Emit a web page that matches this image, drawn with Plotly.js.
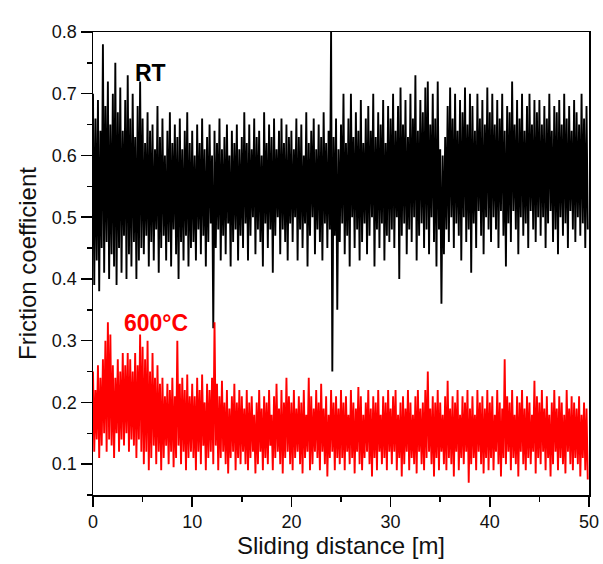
<!DOCTYPE html>
<html>
<head>
<meta charset="utf-8">
<script src="https://cdn.plot.ly/plotly-3.0.1.min.js"></script>
<style>html,body{margin:0;padding:0;background:#fff;}#chart{width:603px;height:564px;}</style>
</head>
<body>
<div id="chart"></div>
<script>
// Sliding distance sampling (m): peaks at k*STEP, troughs at k*STEP + STEP/2
const STEP = 0.25;

// RT (room temperature) friction coefficient: local peaks and troughs
const rtPeaks = [
  0.70,0.66,0.69,0.64,0.78,0.68,0.72,0.65,0.70,0.75,0.67,0.71,0.64,0.69,0.73,0.66,0.70,0.63,0.68,0.72,
  0.66,0.62,0.67,0.64,0.65,0.61,0.68,0.63,0.66,0.60,0.64,0.67,0.62,0.65,0.63,0.66,0.61,0.64,0.67,0.62,
  0.64,0.60,0.65,0.62,0.66,0.61,0.63,0.65,0.60,0.64,0.62,0.66,0.61,0.63,0.65,0.60,0.64,0.62,0.65,0.61,
  0.63,0.67,0.62,0.65,0.61,0.66,0.63,0.64,0.60,0.67,0.62,0.65,0.63,0.66,0.61,0.64,0.66,0.62,0.65,0.63,
  0.64,0.61,0.66,0.63,0.65,0.60,0.67,0.62,0.64,0.66,0.61,0.65,0.63,0.67,0.62,0.64,0.80,0.63,0.66,0.61,
  0.65,0.70,0.62,0.66,0.70,0.63,0.67,0.64,0.69,0.62,0.66,0.68,0.64,0.70,0.63,0.67,0.65,0.69,0.62,0.68,
  0.66,0.70,0.64,0.68,0.71,0.65,0.69,0.63,0.70,0.66,0.73,0.64,0.69,0.67,0.71,0.72,0.65,0.70,0.66,0.72,
  0.61,0.60,0.63,0.68,0.71,0.66,0.70,0.64,0.69,0.67,0.71,0.65,0.70,0.68,0.64,0.70,0.66,0.69,0.65,0.71,
  0.67,0.70,0.65,0.69,0.66,0.70,0.64,0.68,0.67,0.72,0.65,0.69,0.66,0.70,0.64,0.68,0.70,0.65,0.69,0.67,
  0.69,0.65,0.68,0.66,0.70,0.64,0.68,0.67,0.69,0.65,0.70,0.66,0.68,0.64,0.69,0.67,0.65,0.70,0.66,0.68
];
const rtTroughs = [
  0.39,0.43,0.38,0.45,0.41,0.46,0.40,0.44,0.42,0.39,0.45,0.41,0.47,0.40,0.44,0.42,0.46,0.40,0.43,0.45,
  0.44,0.47,0.42,0.46,0.43,0.48,0.41,0.45,0.47,0.43,0.46,0.42,0.48,0.44,0.40,0.46,0.43,0.47,0.42,0.45,
  0.46,0.43,0.48,0.44,0.47,0.42,0.46,0.49,0.32,0.45,0.48,0.43,0.47,0.44,0.49,0.42,0.46,0.48,0.43,0.47,
  0.45,0.49,0.43,0.47,0.50,0.44,0.48,0.46,0.42,0.49,0.45,0.48,0.41,0.47,0.50,0.44,0.48,0.46,0.43,0.49,
  0.46,0.50,0.43,0.48,0.45,0.49,0.42,0.47,0.50,0.44,0.48,0.46,0.43,0.49,0.45,0.48,0.25,0.47,0.35,0.46,
  0.49,0.44,0.47,0.42,0.50,0.45,0.48,0.43,0.46,0.49,0.44,0.47,0.50,0.42,0.48,0.45,0.49,0.43,0.47,0.46,
  0.48,0.45,0.50,0.40,0.47,0.49,0.44,0.48,0.46,0.50,0.43,0.47,0.49,0.45,0.48,0.44,0.50,0.46,0.42,0.48,
  0.36,0.44,0.48,0.46,0.50,0.45,0.49,0.47,0.43,0.50,0.46,0.48,0.41,0.49,0.45,0.51,0.47,0.44,0.50,0.48,
  0.46,0.50,0.48,0.45,0.51,0.47,0.42,0.49,0.46,0.51,0.48,0.44,0.50,0.47,0.49,0.45,0.51,0.48,0.46,0.50,
  0.47,0.50,0.45,0.49,0.51,0.46,0.48,0.44,0.50,0.47,0.49,0.45,0.51,0.48,0.46,0.50,0.47,0.49,0.45,0.48
];

// 600 °C friction coefficient: local peaks and troughs
const hotPeaks = [
  0.25,0.22,0.26,0.24,0.27,0.30,0.33,0.31,0.26,0.24,0.27,0.25,0.28,0.26,0.28,0.27,0.25,0.28,0.26,0.31,
  0.29,0.27,0.30,0.25,0.28,0.24,0.26,0.23,0.24,0.21,0.23,0.22,0.24,0.21,0.30,0.23,0.24,0.22,0.245,0.21,
  0.23,0.21,0.24,0.22,0.245,0.20,0.23,0.22,0.24,0.33,0.23,0.21,0.235,0.20,0.22,0.19,0.21,0.23,0.20,0.22,
  0.21,0.19,0.22,0.20,0.21,0.18,0.20,0.22,0.19,0.21,0.20,0.22,0.18,0.21,0.23,0.19,0.22,0.20,0.24,0.21,
  0.20,0.22,0.19,0.21,0.20,0.22,0.18,0.24,0.21,0.19,0.22,0.20,0.23,0.19,0.21,0.18,0.22,0.20,0.21,0.19,
  0.22,0.20,0.21,0.18,0.22,0.20,0.19,0.225,0.21,0.18,0.20,0.22,0.19,0.21,0.20,0.22,0.18,0.21,0.20,0.22,
  0.19,0.21,0.22,0.18,0.20,0.21,0.19,0.22,0.20,0.18,0.21,0.22,0.19,0.20,0.22,0.25,0.19,0.21,0.20,0.22,
  0.20,0.18,0.21,0.235,0.19,0.21,0.20,0.22,0.18,0.21,0.20,0.22,0.19,0.21,0.18,0.22,0.20,0.21,0.19,0.22,
  0.20,0.21,0.18,0.22,0.20,0.19,0.27,0.21,0.20,0.22,0.18,0.21,0.20,0.22,0.19,0.21,0.20,0.18,0.235,0.21,
  0.20,0.22,0.19,0.21,0.18,0.20,0.22,0.19,0.21,0.20,0.18,0.22,0.19,0.21,0.20,0.19,0.21,0.18,0.20,0.19
];
const hotTroughs = [
  0.12,0.14,0.11,0.13,0.15,0.12,0.14,0.13,0.11,0.15,0.12,0.14,0.13,0.15,0.12,0.14,0.13,0.11,0.14,0.12,
  0.10,0.12,0.09,0.11,0.13,0.10,0.12,0.09,0.11,0.13,0.10,0.12,0.095,0.11,0.13,0.10,0.12,0.09,0.11,0.12,
  0.11,0.09,0.12,0.10,0.13,0.09,0.11,0.12,0.10,0.13,0.09,0.11,0.12,0.10,0.085,0.11,0.12,0.09,0.11,0.10,
  0.12,0.10,0.09,0.11,0.12,0.085,0.10,0.12,0.09,0.11,0.10,0.13,0.09,0.11,0.12,0.10,0.085,0.11,0.12,0.10,
  0.09,0.11,0.12,0.10,0.085,0.11,0.12,0.09,0.10,0.12,0.11,0.09,0.12,0.10,0.08,0.11,0.12,0.09,0.11,0.10,
  0.11,0.09,0.12,0.10,0.11,0.085,0.12,0.10,0.09,0.11,0.12,0.10,0.08,0.11,0.09,0.12,0.10,0.11,0.09,0.12,
  0.10,0.12,0.09,0.11,0.08,0.10,0.12,0.09,0.11,0.10,0.085,0.12,0.10,0.09,0.11,0.12,0.10,0.08,0.11,0.09,
  0.12,0.10,0.09,0.11,0.10,0.08,0.12,0.09,0.11,0.10,0.12,0.07,0.10,0.11,0.09,0.12,0.10,0.085,0.11,0.09,
  0.11,0.09,0.12,0.10,0.08,0.11,0.10,0.12,0.09,0.11,0.10,0.08,0.12,0.10,0.09,0.11,0.10,0.12,0.085,0.11,
  0.10,0.12,0.09,0.11,0.08,0.10,0.12,0.09,0.11,0.10,0.085,0.12,0.10,0.09,0.11,0.10,0.08,0.11,0.09,0.075
];

const seriesNames = ['RT', '600°C'];
const xTickVals = [0, 10, 20, 30, 40, 50];
const yTickVals = [0.1, 0.2, 0.3, 0.4, 0.5, 0.6, 0.7, 0.8];

function signal(peaks, troughs) {
  const x = [], y = [];
  for (let i = 0; i < peaks.length; i++) {
    x.push(i * STEP); y.push(peaks[i]);
    x.push(i * STEP + STEP / 2); y.push(troughs[i]);
  }
  return {x, y};
}

const rt = signal(rtPeaks, rtTroughs);
const hot = signal(hotPeaks, hotTroughs);

const FONT = 'Liberation Sans, Arial, sans-serif';

const traces = [
  {type: 'scatter', mode: 'lines', name: seriesNames[0], x: rt.x, y: rt.y,
   line: {color: '#000000', width: 1.9}, hoverinfo: 'skip'},
  {type: 'scatter', mode: 'lines', name: seriesNames[1], x: hot.x, y: hot.y,
   line: {color: '#ff0000', width: 1.9}, hoverinfo: 'skip'}
];

const axisCommon = {
  showgrid: false, zeroline: false, showline: true, linecolor: '#000', linewidth: 1.5,
  mirror: true, ticks: 'outside', tickcolor: '#000', tickwidth: 1.5,
  tickfont: {family: FONT, size: 18, color: '#111'}
};

const layout = {
  width: 603, height: 564,
  margin: {l: 93, r: 14, t: 32, b: 69},
  paper_bgcolor: '#ffffff', plot_bgcolor: '#ffffff',
  showlegend: false,
  xaxis: Object.assign({}, axisCommon, {
    range: [0, 50], tickvals: xTickVals, ticklen: 10,
    minor: {dtick: 5, ticks: 'outside', ticklen: 5, tickwidth: 1.5, tickcolor: '#000', showgrid: false},
    title: {text: 'Sliding distance [m]', font: {family: FONT, size: 24, color: '#111'}, standoff: 6}
  }),
  yaxis: Object.assign({}, axisCommon, {
    range: [0.05, 0.8], tickvals: yTickVals, tickformat: '.1f', ticklen: 11,
    minor: {dtick: 0.05, tick0: 0.05, ticks: 'outside', ticklen: 5, tickwidth: 1.5, tickcolor: '#000', showgrid: false},
    title: {text: 'Friction coefficient', font: {family: FONT, size: 24, color: '#111'}, standoff: 8}
  }),
  annotations: [
    {text: '<b>RT</b>', x: 5.75, y: 0.733, xref: 'x', yref: 'y', showarrow: false,
     font: {family: FONT, size: 23, color: '#000'}},
    {text: '<b>600°C</b>', x: 6.4, y: 0.328, xref: 'x', yref: 'y', showarrow: false,
     font: {family: FONT, size: 23, color: '#ff0000'}}
  ]
};

Plotly.newPlot('chart', traces, layout, {staticPlot: true, displayModeBar: false});
</script>
</body>
</html>
